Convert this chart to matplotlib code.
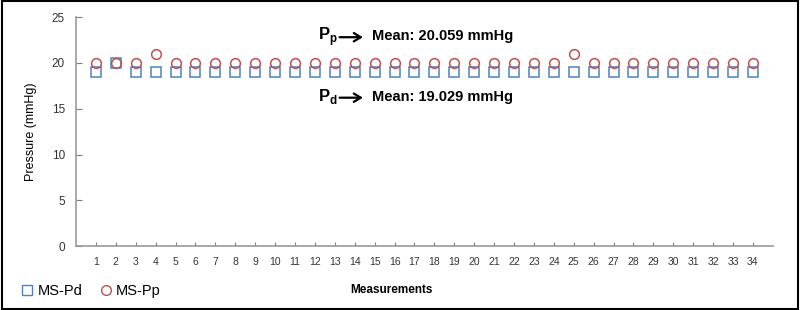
import numpy as np
import matplotlib.pyplot as plt
from matplotlib.lines import Line2D

plt.rcParams['font.family'] = ['Liberation Sans', 'DejaVu Sans']

measurements = np.arange(1, 35)
ms_pd = [19.0, 20.0] + [19.0] * 32
ms_pp = [20.0, 20.0, 20.0, 21.0] + [20.0] * 20 + [21.0] + [20.0] * 9

blue = '#4f81bd'
red = '#c0504d'

fig = plt.figure(figsize=(8, 3.1), dpi=100)
ax = fig.add_axes([0.095, 0.206, 0.871, 0.739])

ax.plot(measurements, ms_pd, 's', ms=7, mfc='white', mec=blue, mew=1.1, zorder=3)
ax.plot(measurements, ms_pp, 'o', ms=7, mfc='none', mec=red, mew=1.1, zorder=4)

ax.set_xlim(0, 35)
ax.set_ylim(0, 25)
ax.set_xticks(measurements)
ax.set_yticks(range(0, 26, 5))
ax.tick_params(axis='x', direction='in', length=3, labelsize=7.5, colors='#7f7f7f',
               labelcolor='#333333', pad=8)
ax.tick_params(axis='y', direction='in', length=4, labelsize=8.5, colors='#7f7f7f',
               labelcolor='#333333', pad=8)
for s in ['top', 'right']:
    ax.spines[s].set_visible(False)
for s in ['left', 'bottom']:
    ax.spines[s].set_color('#999999')
    ax.spines[s].set_linewidth(1.2)

ax.set_ylabel('Pressure (mmHg)', fontsize=9)
ax.yaxis.set_label_coords(-0.056, 0.5)
fig.text(0.489, 0.065, 'Measurements', fontsize=8.5, fontweight='bold',
         ha='center', va='center')

# pixel x -> data: (px - 76) / 19.91
for label, y, txt in [('p', 22.8, 'Mean: 20.059 mmHg'), ('d', 16.2, 'Mean: 19.029 mmHg')]:
    ax.annotate('', xy=(14.55, y), xytext=(13.1, y),
                arrowprops=dict(arrowstyle='->,head_length=0.5,head_width=0.3',
                                lw=1.6, color='black'))
    ax.text(12.15, y + 0.1, r'P$_\mathregular{%s}$' % label, fontsize=12,
            fontweight='bold', va='center')
    ax.text(14.87, y + 0.1, txt, fontsize=10.5, fontweight='bold', va='center')

handles = [Line2D([], [], ls='', marker='s', ms=7, mfc='white', mec=blue, mew=1),
           Line2D([], [], ls='', marker='o', ms=7, mfc='none', mec=red, mew=1)]
fig.legend(handles, ['MS-Pd', 'MS-Pp'], loc='center left', bbox_to_anchor=(0.007, 0.06),
           ncol=2, frameon=False, fontsize=10.5, handletextpad=0.1, columnspacing=1.0,
           handlelength=1.2)

fig.patches.append(plt.Rectangle((0.002, 0.003), 0.995, 0.993, transform=fig.transFigure,
                                 fill=False, ec='black', lw=1.5))

plt.savefig('out.png', dpi=100)
